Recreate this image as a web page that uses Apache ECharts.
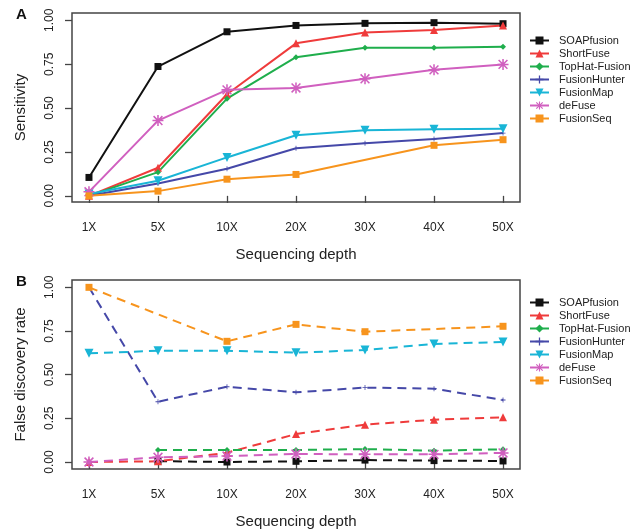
<!DOCTYPE html>
<html>
<head>
<meta charset="utf-8">
<script src="https://cdn.jsdelivr.net/npm/echarts@6/dist/echarts.min.js"></script>
<style>
  html, body { margin: 0; padding: 0; background: #fff; }
  #main { width: 637px; height: 530px; }
</style>
</head>
<body>
<div id="main"></div>
<script>
// sequencing depths (x categories)
var depths = ['1X', '5X', '10X', '20X', '30X', '40X', '50X'];
var tools = ['SOAPfusion', 'ShortFuse', 'TopHat-Fusion', 'FusionHunter', 'FusionMap', 'deFuse', 'FusionSeq'];
var yTicks = [0, 0.25, 0.5, 0.75, 1];

// panel A: sensitivity
var sensSOAPfusion   = [0.105, 0.737, 0.935, 0.971, 0.983, 0.987, 0.981];
var sensShortFuse    = [0.0, 0.16, 0.579, 0.869, 0.931, 0.945, 0.971];
var sensTopHat       = [0.0, 0.135, 0.554, 0.79, 0.844, 0.844, 0.85];
var sensFusionHunter = [0.0, 0.071, 0.154, 0.271, 0.30, 0.324, 0.358];
var sensFusionMap    = [0.01, 0.086, 0.219, 0.345, 0.374, 0.379, 0.383];
var sensDeFuse       = [0.023, 0.429, 0.604, 0.615, 0.667, 0.718, 0.749];
var sensFusionSeq    = [0.0, 0.027, 0.095, 0.122, null, 0.288, 0.32];

// panel B: false discovery rate
var fdrSOAPfusion   = [null, 0.005, 0.0, 0.004, 0.011, 0.008, 0.006];
var fdrShortFuse    = [0.0, 0.004, 0.053, 0.16, 0.214, 0.242, 0.256];
var fdrTopHat       = [null, 0.069, 0.069, 0.069, 0.074, 0.065, 0.073];
var fdrFusionHunter = [1.0, 0.345, 0.431, 0.399, 0.426, 0.42, 0.355];
var fdrFusionMap    = [0.622, 0.637, 0.637, 0.626, 0.641, 0.676, 0.687];
var fdrDeFuse       = [0.0, 0.027, 0.034, 0.046, 0.044, 0.044, 0.052];
var fdrFusionSeq    = [1.0, null, 0.691, 0.788, 0.746, null, 0.777];

var colors = ['#111111', '#ef3b3b', '#1fae4c', '#4548a8', '#19b5d6', '#d05fbf', '#f7941d'];

var asterisk = 'path://M4.3,0h1.4v10h-1.4z M0,4.3h10v1.4h-10z M0.5,1.5L1.5,0.5L9.5,8.5L8.5,9.5z M8.5,0.5L9.5,1.5L1.5,9.5L0.5,8.5z';
var plus = 'path://M4.2,0h1.6v4.2h4.2v1.6h-4.2v4.2h-1.6v-4.2h-4.2v-1.6h4.2z';
var symbols = [
  { symbol: 'rect', size: 7, rotate: 0 },
  { symbol: 'triangle', size: 8, rotate: 0 },
  { symbol: 'diamond', size: 6, rotate: 0 },
  { symbol: plus, size: 5, rotate: 0 },
  { symbol: 'triangle', size: 9, rotate: 180 },
  { symbol: asterisk, size: 11, rotate: 0 },
  { symbol: 'rect', size: 7, rotate: 0 }
];

var sensData = [sensSOAPfusion, sensShortFuse, sensTopHat, sensFusionHunter, sensFusionMap, sensDeFuse, sensFusionSeq];
var fdrData = [fdrSOAPfusion, fdrShortFuse, fdrTopHat, fdrFusionHunter, fdrFusionMap, fdrDeFuse, fdrFusionSeq];

function toPoints(arr) {
  return arr.map(function (v, i) { return [i + 1, v == null ? '-' : v]; });
}

var font = 'Liberation Sans, Arial, sans-serif';
var txt = '#222';
var boxColor = '#444';

function makeX(idx) {
  return {
    type: 'value', gridIndex: idx, min: 0.754, max: 7.246,
    name: 'Sequencing depth', nameLocation: 'middle', nameGap: 45,
    nameTextStyle: { fontSize: 15, color: txt, fontFamily: font },
    axisLine: { show: false },
    splitLine: { show: false },
    axisTick: { show: true, length: 7, customValues: [1, 2, 3, 4, 5, 6, 7], lineStyle: { color: boxColor, width: 1.3 } },
    axisLabel: {
      customValues: [1, 2, 3, 4, 5, 6, 7], margin: 20, fontSize: 12, color: txt, fontFamily: font,
      formatter: function (v) { return depths[Math.round(v) - 1]; }
    }
  };
}
function makeY(idx, name, min) {
  return {
    type: 'value', gridIndex: idx, min: min, max: 1.042,
    name: name, nameLocation: 'middle', nameGap: 44,
    nameTextStyle: { fontSize: 15, color: txt, fontFamily: font },
    axisLine: { show: false },
    splitLine: { show: false },
    axisTick: { show: true, length: 7, customValues: yTicks, lineStyle: { color: boxColor, width: 1.3 } },
    axisLabel: {
      customValues: yTicks, rotate: 90, margin: 16, fontSize: 12, color: txt, fontFamily: font,
      formatter: function (v) { return v.toFixed(2); }
    }
  };
}

var series = [];
tools.forEach(function (name, k) {
  series.push({
    name: name, type: 'line', xAxisIndex: 0, yAxisIndex: 0,
    data: toPoints(sensData[k]), connectNulls: true,
    symbol: symbols[k].symbol, symbolSize: symbols[k].size, symbolRotate: symbols[k].rotate,
    lineStyle: { color: colors[k], width: 2 },
    itemStyle: { color: colors[k] }
  });
});
tools.forEach(function (name, k) {
  series.push({
    name: name, type: 'line', xAxisIndex: 1, yAxisIndex: 1,
    data: toPoints(fdrData[k]), connectNulls: true,
    symbol: symbols[k].symbol, symbolSize: symbols[k].size, symbolRotate: symbols[k].rotate,
    lineStyle: { color: colors[k], width: 2, type: [9, 6] },
    itemStyle: { color: colors[k] }
  });
});

function makeLegend(top) {
  return {
    data: tools, orient: 'vertical', left: 524, top: top,
    itemWidth: 19, itemHeight: 10, itemGap: 2, selectedMode: false,
    textStyle: { fontSize: 11, color: txt, fontFamily: font, padding: [0, 0, 0, 5], lineHeight: 11 }
  };
}

var chart = echarts.init(document.getElementById('main'));
chart.setOption({
  animation: false,
  backgroundColor: '#fff',
  grid: [
    { left: 72, top: 13, width: 448, height: 189, show: true, borderColor: boxColor, borderWidth: 1.5, backgroundColor: 'transparent' },
    { left: 72, top: 280, width: 448, height: 189, show: true, borderColor: boxColor, borderWidth: 1.5, backgroundColor: 'transparent' }
  ],
  legend: [makeLegend(30), makeLegend(292)],
  xAxis: [makeX(0), makeX(1)],
  yAxis: [makeY(0, 'Sensitivity', -0.035), makeY(1, 'False discovery rate', -0.04)],
  graphic: [
    { type: 'text', left: 16, top: 7, style: { text: 'A', fontSize: 15, fontWeight: 'bold', fill: '#111', fontFamily: font } },
    { type: 'text', left: 16, top: 274, style: { text: 'B', fontSize: 15, fontWeight: 'bold', fill: '#111', fontFamily: font } }
  ],
  series: series
});
</script>
</body>
</html>
